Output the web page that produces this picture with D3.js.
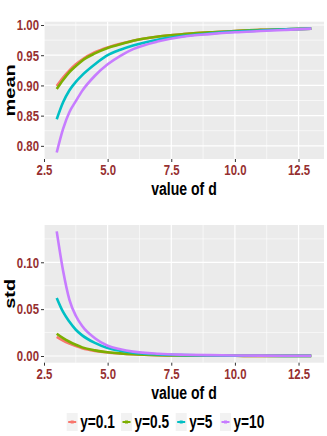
<!DOCTYPE html>
<html>
<head>
<meta charset="utf-8">
<script src="https://cdn.jsdelivr.net/npm/d3@7"></script>
<style>
  body { margin: 0; background: #fff; }
  text { font-family: "Liberation Sans", Arial, sans-serif; font-weight: bold; }
</style>
</head>
<body>
<div id="chart-area"></div>
<script>
const dValues = [3, 3.25, 3.5, 3.75, 4, 4.5, 5, 5.5, 6, 7, 8, 9, 10, 11, 12, 13]

const seriesNames = ["y=0.1", "y=0.5", "y=5", "y=10"]
const seriesColors = ["#F8766D", "#7CAE00", "#00BFC4", "#C77CFF"]

const meanY01 = [0.899, 0.913, 0.925, 0.935, 0.943, 0.955, 0.963, 0.969, 0.974, 0.981, 0.985, 0.988, 0.990, 0.992, 0.993, 0.994]
const meanY05 = [0.894, 0.909, 0.922, 0.932, 0.941, 0.953, 0.962, 0.968, 0.974, 0.981, 0.985, 0.988, 0.990, 0.992, 0.993, 0.994]
const meanY5 = [0.844, 0.872, 0.892, 0.906, 0.917, 0.935, 0.950, 0.959, 0.966, 0.976, 0.982, 0.986, 0.989, 0.991, 0.993, 0.994]
const meanY10 = [0.789, 0.828, 0.856, 0.874, 0.891, 0.916, 0.935, 0.949, 0.960, 0.973, 0.981, 0.985, 0.988, 0.990, 0.992, 0.994]

const stdY01 = [0.0205, 0.0165, 0.0133, 0.0106, 0.0084, 0.0055, 0.0037, 0.0026, 0.0018, 0.0009, 0.0005, 0.0003, 0.0002, 0.0001, 0.0001, 0.0001]
const stdY05 = [0.0237, 0.0190, 0.0152, 0.0120, 0.0092, 0.0060, 0.0040, 0.0028, 0.0019, 0.0009, 0.0005, 0.0003, 0.0002, 0.0001, 0.0001, 0.0001]
const stdY5 = [0.062, 0.047, 0.0365, 0.028, 0.022, 0.014, 0.0085, 0.0055, 0.0035, 0.0017, 0.0009, 0.0005, 0.0003, 0.0002, 0.0001, 0.0001]
const stdY10 = [0.133, 0.091, 0.060, 0.043, 0.032, 0.019, 0.011, 0.0072, 0.0047, 0.0024, 0.0014, 0.0009, 0.0006, 0.0004, 0.0003, 0.0002]

const xTicks = [2.5, 5.0, 7.5, 10.0, 12.5]
const meanTicks = [0.80, 0.85, 0.90, 0.95, 1.00]
const stdTicks = [0.00, 0.05, 0.10]

const W = 327, H = 436
const SQ = 0.76   // horizontal squeeze of all text
const LABEL_COLOR = "#963030"

const svg = d3.select("#chart-area").append("svg")
  .attr("width", W)
  .attr("height", H)

const x = d3.scaleLinear().domain([2.5, 13.5]).range([44, 324])

function squeeze(sel) {
  sel.each(function () {
    const t = d3.select(this)
    const tx = +t.attr("x") || 0
    t.attr("x", tx / SQ).attr("transform", `scale(${SQ},1)`)
  })
}

function panel(top, bottom, yDomain, yTicks, fmt, title, series) {
  const y = d3.scaleLinear().domain(yDomain).range([bottom, top])
  const g = svg.append("g")

  g.append("rect")
    .attr("x", x.range()[0]).attr("y", top)
    .attr("width", x.range()[1] - x.range()[0]).attr("height", bottom - top)
    .attr("fill", "#EBEBEB")

  // minor grid
  const xMinor = xTicks.map(v => v + 1.25).filter(v => v < 13.5)
  const yStep = yTicks[1] - yTicks[0]
  const yMinor = yTicks.concat([yTicks[yTicks.length - 1] + yStep])
    .map(v => v - yStep / 2).filter(v => v > yDomain[0] && v < yDomain[1])
  g.selectAll(".xminor").data(xMinor).enter().append("line")
    .attr("x1", d => x(d)).attr("x2", d => x(d)).attr("y1", top).attr("y2", bottom)
    .attr("stroke", "#fff").attr("stroke-width", 0.6)
  g.selectAll(".yminor").data(yMinor).enter().append("line")
    .attr("y1", d => y(d)).attr("y2", d => y(d)).attr("x1", x.range()[0]).attr("x2", x.range()[1])
    .attr("stroke", "#fff").attr("stroke-width", 0.6)
  // major grid
  g.selectAll(".xmajor").data(xTicks).enter().append("line")
    .attr("x1", d => x(d)).attr("x2", d => x(d)).attr("y1", top).attr("y2", bottom)
    .attr("stroke", "#fff").attr("stroke-width", 1.2)
  g.selectAll(".ymajor").data(yTicks).enter().append("line")
    .attr("y1", d => y(d)).attr("y2", d => y(d)).attr("x1", x.range()[0]).attr("x2", x.range()[1])
    .attr("stroke", "#fff").attr("stroke-width", 1.2)

  const line = d3.line()
    .x((d, i) => x(dValues[i]))
    .y(d => y(d))
    .curve(d3.curveMonotoneX)

  series.forEach((vals, i) => {
    g.append("path")
      .attr("d", line(vals))
      .attr("fill", "none")
      .attr("stroke", seriesColors[i])
      .attr("stroke-width", 2.6)
  })

  const xAxis = g.append("g")
    .attr("transform", `translate(0, ${bottom})`)
    .call(d3.axisBottom(x).tickValues(xTicks).tickFormat(d3.format(".1f")).tickSize(3).tickPadding(2))
  const yAxis = g.append("g")
    .attr("transform", `translate(${x.range()[0]}, 0)`)
    .call(d3.axisLeft(y).tickValues(yTicks).tickFormat(fmt).tickSize(3).tickPadding(2))

  ;[xAxis, yAxis].forEach(a => {
    a.select(".domain").remove()
    a.selectAll(".tick line").attr("stroke", "#333")
    a.selectAll(".tick text")
      .attr("fill", LABEL_COLOR)
      .attr("font-size", "15px")
      .attr("font-family", "Liberation Sans, Arial, sans-serif")
      .attr("font-weight", "bold")
    a.selectAll(".tick text").call(squeeze)
  })
  xAxis.selectAll(".tick text").attr("dy", "0.74em")

  svg.append("text")
    .attr("transform", `translate(${(x.range()[0] + x.range()[1]) / 2}, ${bottom + 36}) scale(${SQ},1)`)
    .attr("text-anchor", "middle")
    .attr("font-size", "18.5px")
    .text("value of d")

  svg.append("text")
    .attr("transform", `translate(15, ${(top + bottom) / 2}) scale(${SQ},1) rotate(-90)`)
    .attr("text-anchor", "middle")
    .attr("font-size", "20px")
    .text(title)
}

panel(21.7, 159, [0.7782, 1.0055], meanTicks, d3.format(".2f"), "mean",
  [meanY01, meanY05, meanY5, meanY10])
panel(225, 362.7, [-0.00715, 0.1398], stdTicks, d3.format(".2f"), "std",
  [stdY01, stdY05, stdY5, stdY10])

// Legend
const legendX = [66.7, 121, 175.7, 220]
const legend = svg.append("g")
seriesNames.forEach((name, i) => {
  const lg = legend.append("g").attr("transform", `translate(${legendX[i]}, 413)`)
  lg.append("rect").attr("width", 11).attr("height", 18).attr("fill", "#F2F2F2")
  lg.append("line").attr("x1", 1.5).attr("x2", 9.5).attr("y1", 9).attr("y2", 9)
    .attr("stroke", seriesColors[i]).attr("stroke-width", 2)
  lg.append("rect").attr("x", 4).attr("y", 7.5).attr("width", 3).attr("height", 3)
    .attr("fill", seriesColors[i])
  lg.append("text")
    .attr("transform", `translate(13.5, 15) scale(${SQ},1)`)
    .attr("font-size", "18px")
    .text(name)
})
</script>
</body>
</html>
